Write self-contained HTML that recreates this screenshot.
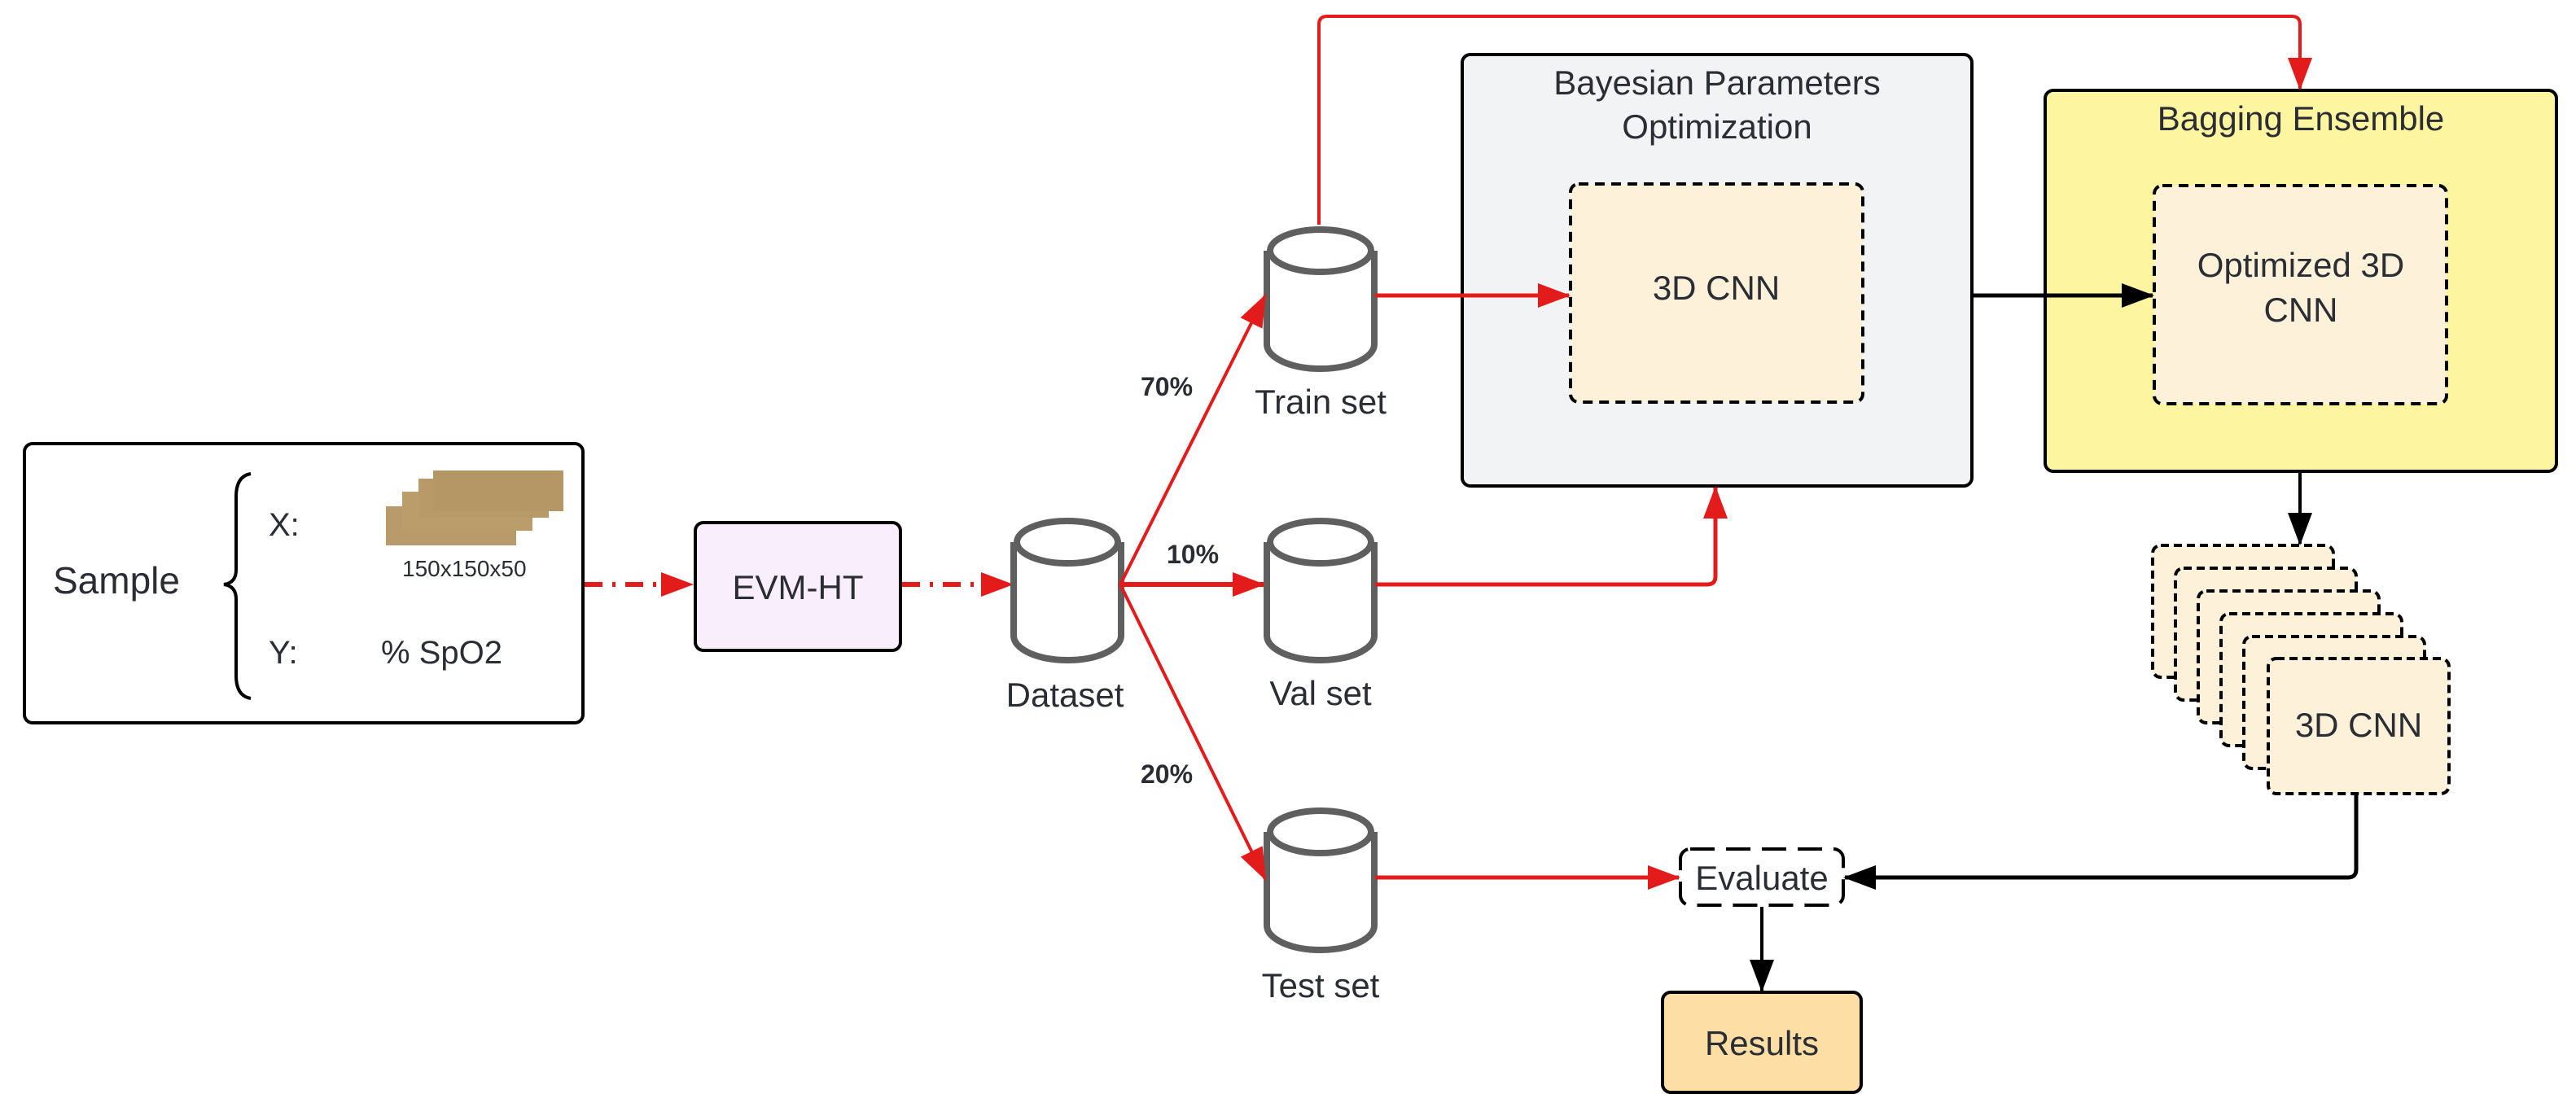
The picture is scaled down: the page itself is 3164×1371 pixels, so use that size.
<!DOCTYPE html>
<html><head><meta charset="utf-8"><style>
html,body{margin:0;padding:0;background:#fff}
svg{display:block}
text{font-family:"Liberation Sans",sans-serif;fill:#2a2d34}
</style></head><body>
<svg width="3164" height="1371" viewBox="0 0 3164 1371" xmlns="http://www.w3.org/2000/svg">
<defs>
<marker id="ar" markerWidth="10" markerHeight="10" refX="9" refY="5" orient="auto" markerUnits="userSpaceOnUse" viewBox="0 0 10 10"><path d="M0,0L10,5L0,10z" fill="#e31b1b"/></marker>
<marker id="arR" markerWidth="40" markerHeight="30" refX="38" refY="15" orient="auto" markerUnits="userSpaceOnUse"><path d="M0,0L40,15L0,30z" fill="#e31b1b"/></marker>
<marker id="arK" markerWidth="40" markerHeight="30" refX="38" refY="15" orient="auto" markerUnits="userSpaceOnUse"><path d="M0,0L40,15L0,30z" fill="#000"/></marker>
<g id="cyl">
<path d="M0,30 L0,145 A66,30 0 0 0 132,145 L132,30" fill="#fff" stroke="#5f5f5f" stroke-width="8"/>
<ellipse cx="66" cy="30" rx="62" ry="26" fill="#fff" stroke="#5f5f5f" stroke-width="8"/>
</g>
</defs>

<!-- Sample box -->
<rect x="30" y="545" width="686" height="343" rx="10" fill="#fff" stroke="#000" stroke-width="4"/>
<text x="65" y="729" font-size="46">Sample</text>
<path d="M308,582 Q290,585 290,610 L290,700 Q290,716 275,718 Q290,720 290,736 L290,830 Q290,855 308,858" fill="none" stroke="#000" stroke-width="4"/>
<text x="330" y="658" font-size="40">X:</text>
<text x="330" y="815" font-size="40">Y:</text>
<text x="468" y="815" font-size="40">% SpO2</text>
<rect x="474" y="622" width="160" height="48" fill="#b99b6b"/>
<rect x="494" y="604" width="160" height="48" fill="#bb9d6c"/>
<rect x="514" y="588" width="160" height="48" fill="#b89a68"/>
<rect x="532" y="578" width="160" height="50" fill="#b59765"/>
<text x="494" y="708" font-size="28" fill="#000">150x150x50</text>

<!-- EVM-HT -->
<rect x="854" y="642" width="252" height="157" rx="10" fill="#f9eefc" stroke="#000" stroke-width="4"/>
<text x="980" y="736" font-size="42" text-anchor="middle">EVM-HT</text>

<!-- dash-dot arrows -->
<line x1="718" y1="718" x2="850" y2="718" stroke="#e31b1b" stroke-width="6" stroke-dasharray="22,12,4,12" marker-end="url(#arR)"/>
<line x1="1108" y1="718" x2="1243" y2="718" stroke="#e31b1b" stroke-width="6" stroke-dasharray="22,12,4,12" marker-end="url(#arR)"/>

<!-- cylinders -->
<use href="#cyl" x="1245" y="636"/>
<use href="#cyl" x="1556" y="278"/>
<use href="#cyl" x="1556" y="636"/>
<use href="#cyl" x="1556" y="992"/>
<text x="1308" y="868" font-size="42" text-anchor="middle" fill="#000">Dataset</text>
<text x="1622" y="508" font-size="42" text-anchor="middle" fill="#000">Train set</text>
<text x="1622" y="866" font-size="42" text-anchor="middle" fill="#000">Val set</text>
<text x="1622" y="1225" font-size="42" text-anchor="middle" fill="#000">Test set</text>

<!-- split arrows -->
<line x1="1376" y1="718" x2="1554" y2="363" stroke="#e31b1b" stroke-width="4" marker-end="url(#arR)"/>
<line x1="1376" y1="718" x2="1552" y2="718" stroke="#e31b1b" stroke-width="6" marker-end="url(#arR)"/>
<line x1="1376" y1="718" x2="1554" y2="1080" stroke="#e31b1b" stroke-width="4" marker-end="url(#arR)"/>
<text x="1433" y="486" font-size="32" font-weight="bold" text-anchor="middle" fill="#333">70%</text>
<text x="1465" y="692" font-size="32" font-weight="bold" text-anchor="middle" fill="#333">10%</text>
<text x="1433" y="962" font-size="32" font-weight="bold" text-anchor="middle" fill="#333">20%</text>

<!-- Bayesian -->
<rect x="1796" y="67" width="626" height="530" rx="10" fill="#f2f3f5" stroke="#000" stroke-width="4"/>
<text x="2109" y="116" font-size="42" text-anchor="middle">Bayesian Parameters</text>
<text x="2109" y="170" font-size="42" text-anchor="middle">Optimization</text>
<rect x="1929" y="226" width="359" height="268" rx="10" fill="#fdf1d9" stroke="#000" stroke-width="4" stroke-dasharray="12,8"/>
<text x="2108" y="368" font-size="42" text-anchor="middle">3D CNN</text>

<!-- Bagging -->
<rect x="2512" y="111" width="628" height="468" rx="10" fill="#fef5a0" stroke="#000" stroke-width="4"/>
<text x="2826" y="160" font-size="42" text-anchor="middle">Bagging Ensemble</text>
<rect x="2646" y="228" width="359" height="268" rx="10" fill="#fdf1d9" stroke="#000" stroke-width="4" stroke-dasharray="12,8"/>
<text x="2826" y="340" font-size="42" text-anchor="middle">Optimized 3D</text>
<text x="2826" y="395" font-size="42" text-anchor="middle">CNN</text>

<!-- connectors -->
<line x1="1689" y1="363" x2="1927" y2="363" stroke="#e31b1b" stroke-width="5" marker-end="url(#arR)"/>
<path d="M1620,276 L1620,30 Q1620,20 1630,20 L2815,20 Q2825,20 2825,30 L2825,109" fill="none" stroke="#e31b1b" stroke-width="4" marker-end="url(#arR)"/>
<path d="M1689,718 L2097,718 Q2107,718 2107,708 L2107,599" fill="none" stroke="#e31b1b" stroke-width="5" marker-end="url(#arR)"/>
<line x1="2424" y1="363" x2="2644" y2="363" stroke="#000" stroke-width="5" marker-end="url(#arK)"/>
<line x1="2825" y1="581" x2="2825" y2="668" stroke="#000" stroke-width="4" marker-end="url(#arK)"/>

<!-- stack -->
<g fill="#fdf1d9" stroke="#000" stroke-width="4" stroke-dasharray="10,6">
<rect x="2644" y="670" width="222" height="162" rx="10"/>
<rect x="2672" y="698" width="222" height="162" rx="10"/>
<rect x="2700" y="726" width="222" height="162" rx="10"/>
<rect x="2728" y="754" width="222" height="162" rx="10"/>
<rect x="2756" y="782" width="222" height="162" rx="10"/>
<rect x="2786" y="809" width="222" height="166" rx="10"/>
</g>
<text x="2897" y="905" font-size="42" text-anchor="middle">3D CNN</text>

<path d="M2894,977 L2894,1068 Q2894,1078 2884,1078 L2266,1078" fill="none" stroke="#000" stroke-width="5" marker-end="url(#arK)"/>
<line x1="1689" y1="1078" x2="2062" y2="1078" stroke="#e31b1b" stroke-width="5" marker-end="url(#arR)"/>

<!-- Evaluate -->
<rect x="2064" y="1043" width="200" height="69" rx="12" fill="#fff" stroke="#000" stroke-width="4" stroke-dasharray="30,14"/>
<text x="2164" y="1093" font-size="42" text-anchor="middle">Evaluate</text>
<line x1="2164" y1="1114" x2="2164" y2="1217" stroke="#000" stroke-width="4" marker-end="url(#arK)"/>

<!-- Results -->
<rect x="2042" y="1219" width="244" height="123" rx="10" fill="#fddfa6" stroke="#000" stroke-width="4"/>
<text x="2164" y="1296" font-size="42" text-anchor="middle">Results</text>
</svg>
</body></html>
